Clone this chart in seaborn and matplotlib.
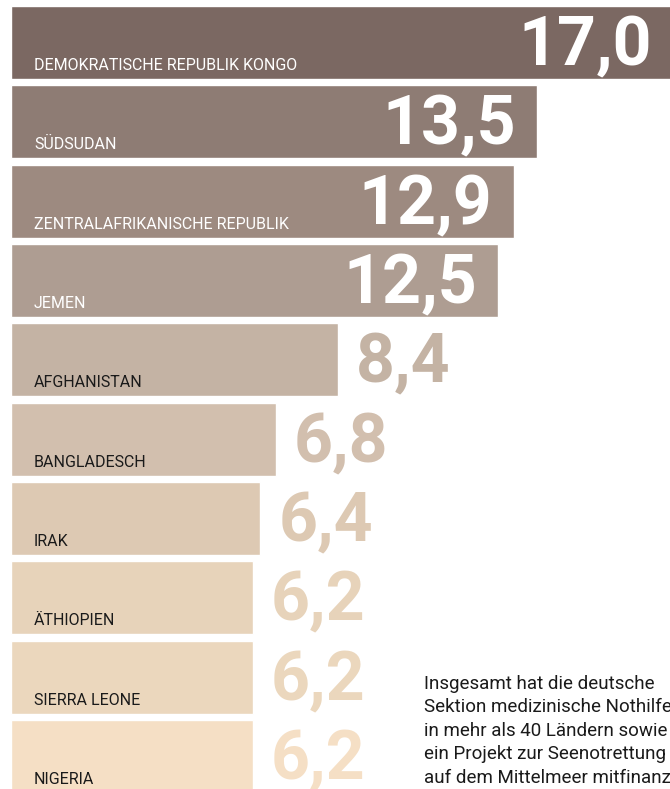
import matplotlib
matplotlib.use("Agg")
import matplotlib.pyplot as plt
import seaborn as sns
import pandas as pd

countries = ["DEMOKRATISCHE REPUBLIK KONGO", "SÜDSUDAN", "ZENTRALAFRIKANISCHE REPUBLIK",
             "JEMEN", "AFGHANISTAN", "BANGLADESCH", "IRAK", "ÄTHIOPIEN",
             "SIERRA LEONE", "NIGERIA"]
values = [17.0, 13.5, 12.9, 12.5, 8.4, 6.8, 6.4, 6.2, 6.2, 6.2]
value_labels = ["17,0", "13,5", "12,9", "12,5", "8,4", "6,8", "6,4", "6,2", "6,2", "6,2"]
colors = ["#7B6862", "#8E7C74", "#9D8A80", "#AE9D92", "#C4B3A4",
          "#D2BFAE", "#DDC9B3", "#E7D3BA", "#EBD7BD", "#F5DFC5"]
note = ("Insgesamt hat die deutsche\nSektion medizinische Nothilfe\n"
        "in mehr als 40 Ländern sowie\nein Projekt zur Seenotrettung\n"
        "auf dem Mittelmeer mitfinanziert.")

sns.set_theme(style="white")
plt.rcParams['font.family'] = ['Roboto', 'DejaVu Sans']

df = pd.DataFrame({"country": countries, "value": values})

fig = plt.figure(figsize=(6.7, 7.89), dpi=100)
ax = fig.add_axes([0, 0, 1, 1])
sns.barplot(data=df, x="value", y="country", hue="country", palette=colors,
            legend=False, width=0.92, ax=ax, saturation=1)

ax.set_xlim(-0.282, 16.91)
ax.set_ylim(9.41, -0.536)
ax.axis("off")

n_inside = 4
for i, (v, lab, c, name) in enumerate(zip(values, value_labels, colors, countries)):
    if i < n_inside:
        ax.text(v - 0.55, i + 0.29, lab, ha="right", va="baseline",
                fontsize=49, fontweight="bold", color="white")
        tc = "white"
    else:
        ax.text(v + 0.46, i + 0.29, lab, ha="left", va="baseline",
                fontsize=49, fontweight="bold", color=c)
        tc = "#1a1a1a"
    ax.text(0.59, i + 0.347, name, ha="left", va="baseline",
            fontsize=11.5, color=tc)

# multi-line text: baseline alignment refers to the last line
fig.text(424 / 670, 1 - 783 / 789, note, ha="left", va="baseline",
         fontsize=13.5, color="#1a1a1a", linespacing=1.40)
fig.savefig("out.png", dpi=100)
